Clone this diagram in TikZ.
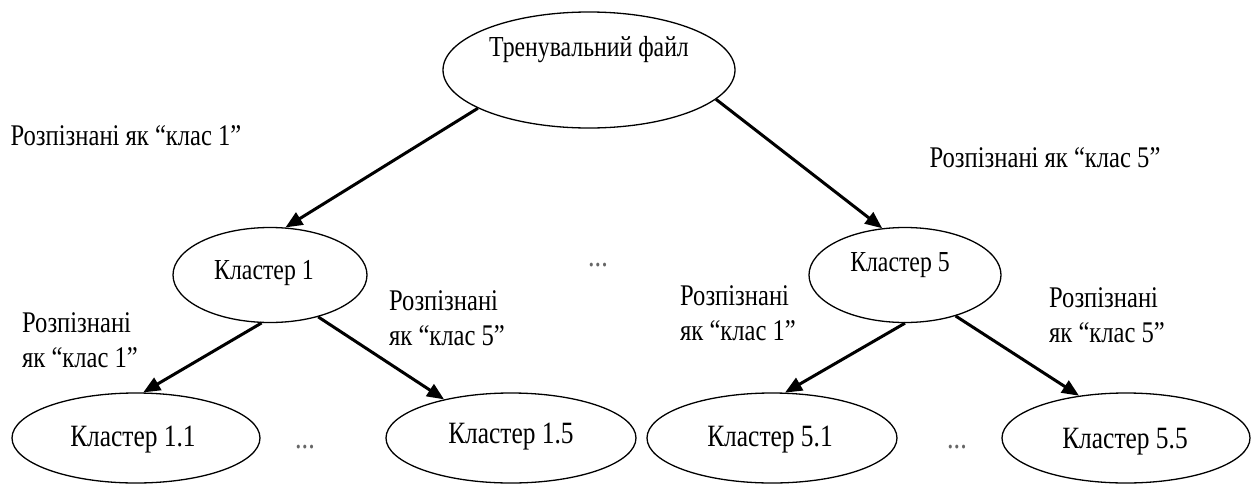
\documentclass[tikz,border=0pt]{standalone}
\usepackage{fontspec}
\setmainfont{Liberation Serif}[FakeStretch=0.82]
\usetikzlibrary{shapes.geometric,arrows.meta}
\begin{document}
\begin{tikzpicture}[x=1pt,y=-1pt,
  ell/.style={draw,ellipse,line width=1.3pt,inner sep=0pt},
  txt/.style={font=\fontsize{29}{32}\selectfont,inner sep=0pt},
  txtb/.style={font=\fontsize{31}{34}\selectfont,inner sep=0pt},
  lbl/.style={font=\fontsize{30}{35}\selectfont,inner sep=0pt,align=left},
  dots/.style={font=\fontsize{32}{32}\selectfont,inner sep=0pt,text=black!60},
  arr/.style={line width=3pt,-{Triangle[length=17pt,width=14pt]}}]
\useasboundingbox[fill=white] (0,0) rectangle (1251,485);
% ellipses
\node[ell,minimum width=292pt,minimum height=116pt] (top) at (589,70) {};
\node[ell,minimum width=194pt,minimum height=95pt] (k1) at (270,275) {};
\node[ell,minimum width=192pt,minimum height=95pt] (k5) at (905,275) {};
\node[ell,minimum width=248pt,minimum height=90pt] (k11) at (136,438) {};
\node[ell,minimum width=250pt,minimum height=90pt] (k15) at (511,438) {};
\node[ell,minimum width=250pt,minimum height=90pt] (k51) at (772,438) {};
\node[ell,minimum width=248pt,minimum height=90pt] (k55) at (1126,438) {};
% texts
\node[txt] (ttop) at (589,50) {Тренувальний файл};
\node[txt] (tk1) at (264,273) {Кластер 1};
\node[txt] (tk5) at (900,265) {Кластер 5};
\node[txtb] (tk11) at (133,440) {Кластер 1.1};
\node[txtb] (tk15) at (511,437) {Кластер 1.5};
\node[txtb] (tk51) at (770,440) {Кластер 5.1};
\node[txtb] (tk55) at (1125,442) {Кластер 5.5};
% labels
\node[lbl] (l1) at (126,136) {Розпізнані як “клас 1”};
\node[lbl] (l5) at (1045,158) {Розпізнані як “клас 5”};
\node[lbl] (l11) at (80,340) {Розпізнані\\як “клас 1”};
\node[lbl] (l15) at (447,318) {Розпізнані\\як “клас 5”};
\node[lbl] (l51) at (738,313) {Розпізнані\\як “клас 1”};
\node[lbl] (l55) at (1107,315) {Розпізнані\\як “клас 5”};
% dots
\node[dots] (d0) at (598,265) {...};
\node[dots] (d1) at (305,447) {...};
\node[dots] (d2) at (957,447) {...};
% arrows
\draw[arr] (top.199) -- (k1.72);
\draw[arr] (top.347) -- (k5.116);
\draw[arr] (k1.260) -- (k11.81);
\draw[arr] (k1.319) -- (k15.150);
\draw[arr] (k5.270) -- (k51.74);
\draw[arr] (k5.321) -- (k55.138);
\end{tikzpicture}
\end{document}
